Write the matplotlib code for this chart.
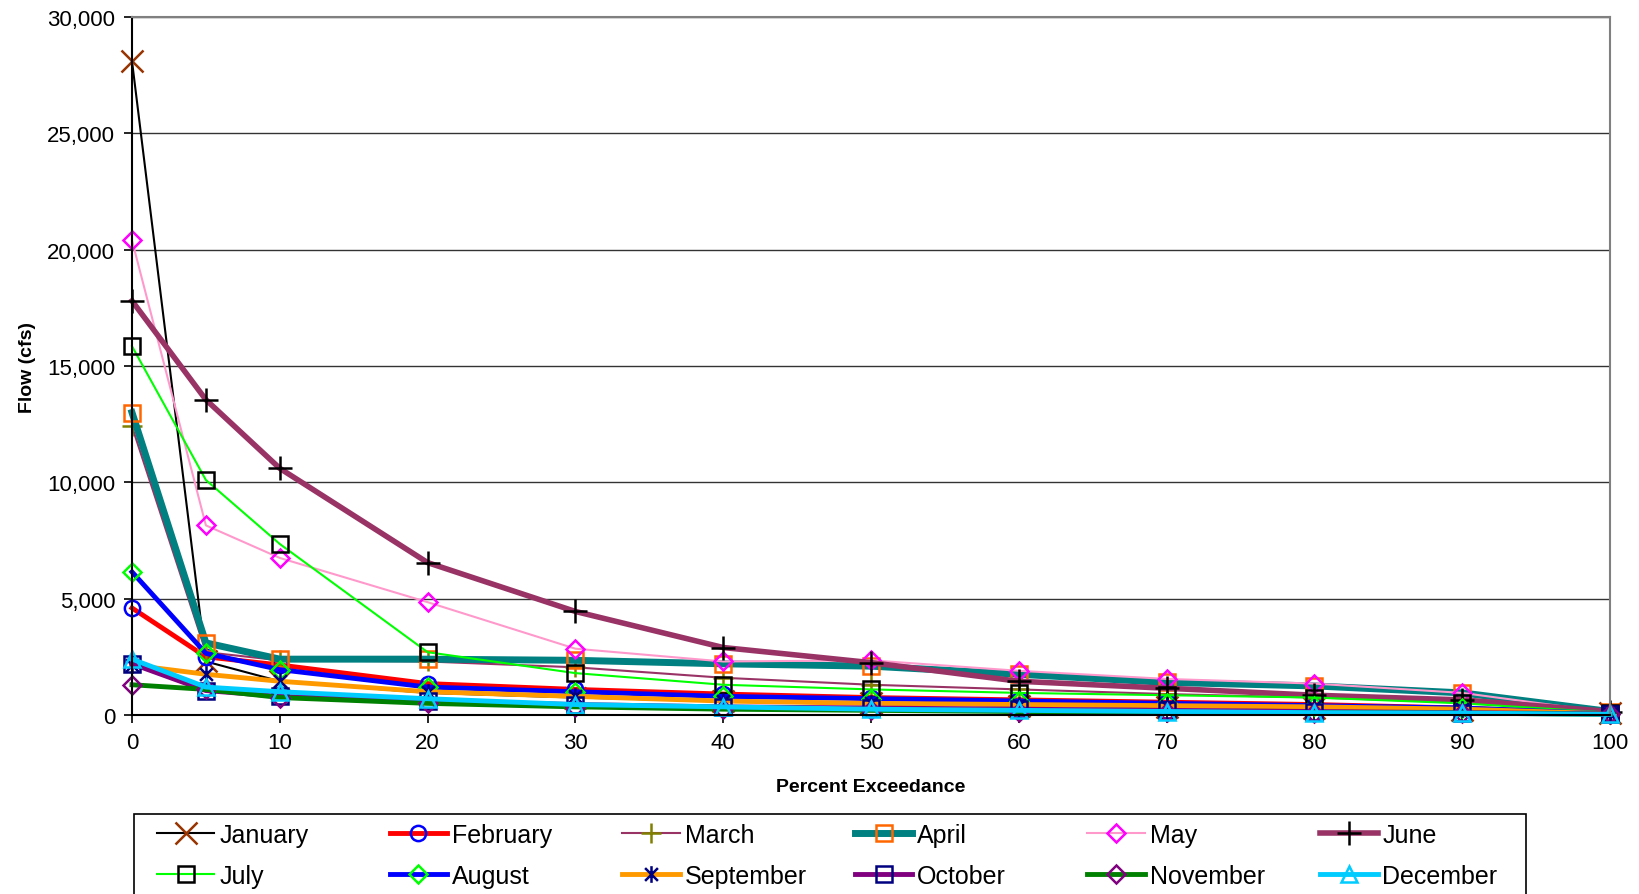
import numpy as np
import matplotlib
matplotlib.use("Agg")
from matplotlib import pyplot as plt
from matplotlib.path import Path
from matplotlib.patches import Rectangle
from matplotlib.ticker import FuncFormatter, MultipleLocator

plt.rcParams['font.family'] = ['Liberation Sans', 'DejaVu Sans']

# percent exceedance
exceedance = [0, 5, 10, 20, 30, 40, 50, 60, 70, 80, 90, 100]

# flow (cfs) per month
january = [28100, 2300, 1450, 950, 750, 600, 500, 400, 350, 300, 200, 100]
february = [4600, 2500, 2150, 1350, 1100, 900, 750, 650, 550, 450, 300, 50]
march = [12400, 2700, 2350, 2300, 2050, 1600, 1300, 1100, 900, 750, 550, 100]
april = [13000, 3100, 2400, 2400, 2350, 2200, 2100, 1750, 1400, 1250, 950, 150]
may = [20400, 8150, 6750, 4850, 2850, 2300, 2350, 1900, 1550, 1350, 950, 100]
june = [17800, 13550, 10600, 6550, 4450, 2900, 2250, 1450, 1150, 850, 650, 150]
july = [15850, 10100, 7350, 2700, 1800, 1300, 1100, 950, 850, 750, 500, 100]
august = [6150, 2650, 1950, 1200, 1000, 800, 700, 600, 500, 400, 300, 50]
september = [2150, 1750, 1450, 1000, 800, 600, 500, 450, 400, 350, 250, 50]
october = [2200, 1050, 800, 600, 450, 350, 300, 250, 200, 150, 100, 50]
november = [1300, 1100, 750, 500, 350, 250, 200, 150, 120, 100, 80, 30]
december = [2400, 1200, 1000, 700, 450, 350, 250, 200, 150, 100, 80, 30]

month_names = ['January', 'February', 'March', 'April', 'May', 'June',
               'July', 'August', 'September', 'October', 'November', 'December']

# asterisk marker (x with a vertical bar), like the Excel star marker
asterisk = Path([(-1, -1), (1, 1), (-1, 1), (1, -1), (0, -1.3), (0, 1.3)],
                [Path.MOVETO, Path.LINETO, Path.MOVETO, Path.LINETO, Path.MOVETO, Path.LINETO])

# (line colour, line width, marker, marker colour, marker size)
styles = [
    ('black', 1.5, 'x', '#993300', 16),
    ('#FF0000', 3.5, 'o', '#0000FF', 11),
    ('#993366', 1.5, '+', '#808000', 15),
    ('#008080', 5.0, 's', '#FF6600', 12),
    ('#FF99CC', 1.5, 'D', '#FF00FF', 9),
    ('#993366', 4.0, '+', 'black', 17),
    ('#00FF00', 1.5, 's', 'black', 12),
    ('#0000FF', 3.5, 'D', '#00FF00', 9),
    ('#FF9900', 3.5, asterisk, '#000080', 12),
    ('#800080', 3.5, 's', '#000080', 11),
    ('#008000', 3.5, 'D', '#800080', 9),
    ('#00CCFF', 3.5, '^', '#00CCFF', 12),
]

series = [january, february, march, april, may, june,
          july, august, september, october, november, december]

W, H = 1640, 895
fig = plt.figure(figsize=(W / 100, H / 100), dpi=100)
ax = fig.add_axes([132 / W, 1 - 716 / H, (1610 - 132) / W, (716 - 18) / H])

handles = []
for vals, name, st in zip(series, month_names, styles):
    lc, lw, mk, mc, ms = st
    h, = ax.plot(exceedance, vals, color=lc, lw=lw, marker=mk, markersize=ms,
                 markerfacecolor='none', markeredgecolor=mc, markeredgewidth=1.8,
                 label=name, clip_on=False)
    handles.append(h)

ax.set_xlim(0, 100)
ax.set_ylim(0, 30000)
ax.xaxis.set_major_locator(MultipleLocator(10))
ax.yaxis.set_major_locator(MultipleLocator(5000))
ax.yaxis.set_major_formatter(FuncFormatter(lambda v, p: f'{int(v):,}'))
ax.tick_params(axis='both', direction='out', length=6, width=1.2, labelsize=16, pad=6)
ax.grid(axis='y', color='#333333', lw=1.0)
ax.set_axisbelow(True)
for s in ['left', 'bottom']:
    ax.spines[s].set_color('black')
    ax.spines[s].set_linewidth(1.5)
for s in ['top', 'right']:
    ax.spines[s].set_color('#808080')
    ax.spines[s].set_linewidth(1.5)

ax.set_xlabel('Percent Exceedance', fontsize=14, fontweight='bold', labelpad=18)
ax.set_ylabel('Flow (cfs)', fontsize=14, fontweight='bold', labelpad=8)

# legend: evenly spaced entries in rows of six, box runs off the bottom edge
fig.patches.append(Rectangle((134 / W, -0.05), (1526 - 134) / W, 1 - 815 / H + 0.05,
                             transform=fig.transFigure, fill=False,
                             edgecolor='black', lw=1.2))
for i, (h, name) in enumerate(zip(handles, month_names)):
    row, col = divmod(i, 6)
    lx = (157 + col * 232.6) / W
    ly = 1 - (836 + row * 41) / H
    fig.legend([h], [name], loc='center left', bbox_to_anchor=(lx, ly),
               frameon=False, fontsize=18, handlelength=2.3, handletextpad=0.2,
               borderpad=0, borderaxespad=0)

fig.savefig('out.png', dpi=100)
